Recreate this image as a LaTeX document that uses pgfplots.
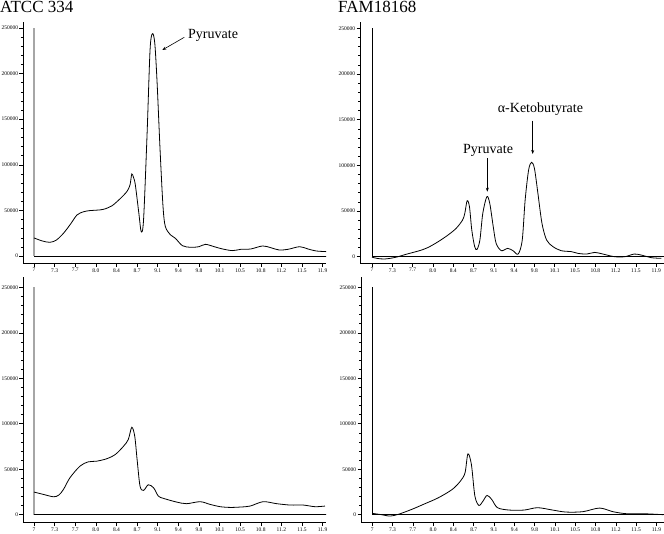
\documentclass[border=0pt]{standalone}
\usepackage{fontspec}
\setmainfont{Liberation Serif}
\usepackage{pgfplots}
\pgfplotsset{compat=1.18}
\usetikzlibrary{arrows.meta}

\pgfplotsset{
  chrom/.style={
    scale only axis,
    axis x line=bottom, axis y line=left,
    axis line style={-, black, line width=0.7pt},
    scaled ticks=false, scaled y ticks=false, scaled x ticks=false,
    xtick={7,7.35,7.7,8.05,8.4,8.75,9.1,9.45,9.8,10.15,10.5,10.85,11.2,11.55,11.9},
    xticklabels={7,7.3,7.7,8.0,8.4,8.7,9.1,9.4,9.8,10.1,10.5,10.8,11.2,11.5,11.9},
    ytick={0,50000,100000,150000,200000,250000},
    yticklabels={0,50000,100000,150000,200000,250000},
    minor y tick num=4,
    tick align=outside,
    major tick length=3.5pt, minor tick length=2pt,
    every tick/.style={black, line width=0.5pt},
    ticklabel style={font=\fontsize{5.5}{6}\selectfont, inner sep=1.2pt},
    /pgf/number format/assume math mode=true,
    clip=true,
  },
  curve/.style={black, line width=0.8pt, smooth, tension=0.5},
}

\begin{document}
\begin{tikzpicture}[x=1pt,y=1pt]
\useasboundingbox (0,0) rectangle (664,533);

% ---------------- top left ----------------
\begin{axis}[chrom, at={(23pt,269.5pt)}, anchor=south west,
  width=303pt, height=241.5pt,
  xmin=6.813, xmax=11.957, ymin=-8224, ymax=256580]
\addplot[gray!70, line width=1.4pt] coordinates {(7,0) (7,250000)};
\addplot[black, line width=0.7pt] coordinates {(7,0) (12.1,0)};
\addplot[curve] coordinates {
(7.0,19800) (7.14,16500) (7.27,15000) (7.38,17500) (7.5,24900) (7.62,35000) (7.73,45000) (7.84,48500)
(7.95,49800) (8.07,50300) (8.18,51200) (8.32,54900) (8.47,63300) (8.58,71000) (8.63,78000)
(8.66,90000) (8.69,86000) (8.72,78000) (8.78,46800) (8.82,26700) (8.86,40000)
(8.92,134700) (8.97,226000) (9.01,243800) (9.05,233500) (9.09,189600) (9.14,116400)
(9.19,54200) (9.23,32200) (9.32,23000) (9.40,19400) (9.52,11300) (9.66,9500) (9.80,10200)
(9.91,12800) (10.06,10200) (10.20,7700) (10.37,5900) (10.51,7300) (10.68,7700) (10.88,11000)
(11.02,9100) (11.16,6600) (11.31,7300) (11.51,10200) (11.65,7700) (11.79,5500) (11.96,4800)};
\end{axis}

% ---------------- top right ----------------
\begin{axis}[chrom, at={(360pt,269.5pt)}, anchor=south west,
  width=304pt, height=241.5pt,
  xmin=6.793, xmax=12.034, ymin=-7443, ymax=256900]
\addplot[black, line width=0.7pt] coordinates {(7,0) (7,250000)};
\addplot[black, line width=0.7pt] coordinates {(7,0) (12.1,0)};
\addplot[curve] coordinates {
(7.0,-500) (7.1,-2000) (7.22,-2500) (7.34,-1500) (7.45,0) (7.58,2500) (7.71,4700) (7.84,7000) (7.97,10200)
(8.14,16400) (8.31,23700) (8.45,31000) (8.56,40000) (8.60,47500) (8.64,61300) (8.68,54800)
(8.72,29200) (8.77,11000) (8.81,8000) (8.86,18250) (8.91,47500) (8.98,65700) (9.03,58400)
(9.09,32900) (9.14,14600) (9.23,6600) (9.34,9100) (9.43,6600) (9.52,2900) (9.59,18250)
(9.64,62000) (9.70,95000) (9.75,103300) (9.80,96700) (9.86,69400) (9.93,36500) (10.01,18250)
(10.12,11000) (10.26,6600) (10.44,5500) (10.55,3650) (10.70,2900) (10.84,4700) (10.98,2900)
(11.18,0) (11.36,0) (11.52,2900) (11.64,1800) (11.82,-1100) (11.99,-1800)};
\end{axis}

% ---------------- bottom left ----------------
\begin{axis}[chrom, at={(23pt,10.3pt)}, anchor=south west,
  width=303pt, height=245.4pt,
  xmin=6.813, xmax=11.957, ymin=-8800, ymax=261000]
\addplot[gray!70, line width=1.4pt] coordinates {(7,0) (7,250000)};
\addplot[black, line width=0.7pt] coordinates {(7,0) (12.1,0)};
\addplot[curve] coordinates {
(7.0,24900) (7.16,22300) (7.33,19700) (7.42,21500) (7.50,27800) (7.61,40600) (7.78,53400) (7.92,58100)
(8.06,58800) (8.23,61400) (8.38,66200) (8.52,75300) (8.60,82600) (8.66,96100) (8.71,86300)
(8.75,60700) (8.80,31400) (8.86,26700) (8.94,32900) (9.03,29600) (9.11,20500) (9.20,17900)
(9.42,13900) (9.59,12100) (9.82,14300) (9.99,11300) (10.16,8800) (10.33,8000) (10.50,8400)
(10.67,9500) (10.89,14300) (11.12,12100) (11.35,10600) (11.57,10600) (11.77,8800) (11.94,9500)};
\end{axis}

% ---------------- bottom right ----------------
\begin{axis}[chrom, at={(361pt,10.3pt)}, anchor=south west,
  width=303pt, height=245.4pt,
  xmin=6.807, xmax=12.03, ymin=-8800, ymax=261000]
\addplot[black, line width=0.7pt] coordinates {(7,0) (7,250000)};
\addplot[black, line width=0.7pt] coordinates {(7,0) (12.1,0)};
\addplot[curve] coordinates {
(7.0,1500) (7.16,0) (7.31,-1500) (7.45,400) (7.68,5800) (7.91,12100) (8.14,18600) (8.38,27800)
(8.52,36900) (8.60,46000) (8.65,66900) (8.71,55200) (8.77,20500) (8.84,10200) (8.91,15000)
(8.98,21200) (9.06,16800) (9.16,7700) (9.36,5100) (9.62,5100) (9.85,7700) (10.11,5100)
(10.34,2900) (10.63,3300) (10.92,7300) (11.15,3300) (11.38,1100) (11.67,1100) (12.02,0)};
\end{axis}

% ---------------- titles and annotations ----------------
\node[anchor=base west, inner sep=0pt, font=\fontsize{17}{20}\selectfont] at (0,520.3) {ATCC 334};
\node[anchor=base west, inner sep=0pt, font=\fontsize{17}{20}\selectfont] at (338,520.3) {FAM18168};

\node[anchor=base west, inner sep=0pt, font=\fontsize{14}{16}\selectfont] at (188,494) {Pyruvate};
\draw[-{Stealth[length=4pt,width=3pt]}, line width=0.6pt] (184.3,495.7) -- (162.3,483);

\node[anchor=base west, inner sep=0pt, font=\fontsize{14}{16}\selectfont] at (497.7,420.3) {α-Ketobutyrate};
\draw[-{Stealth[length=4pt,width=3pt]}, line width=0.6pt] (532.7,412.3) -- (532.7,379);

\node[anchor=base west, inner sep=0pt, font=\fontsize{14}{16}\selectfont] at (463,379.7) {Pyruvate};
\draw[-{Stealth[length=4pt,width=3pt]}, line width=0.6pt] (487.3,374.7) -- (487.3,341.3);
\end{tikzpicture}
\end{document}
